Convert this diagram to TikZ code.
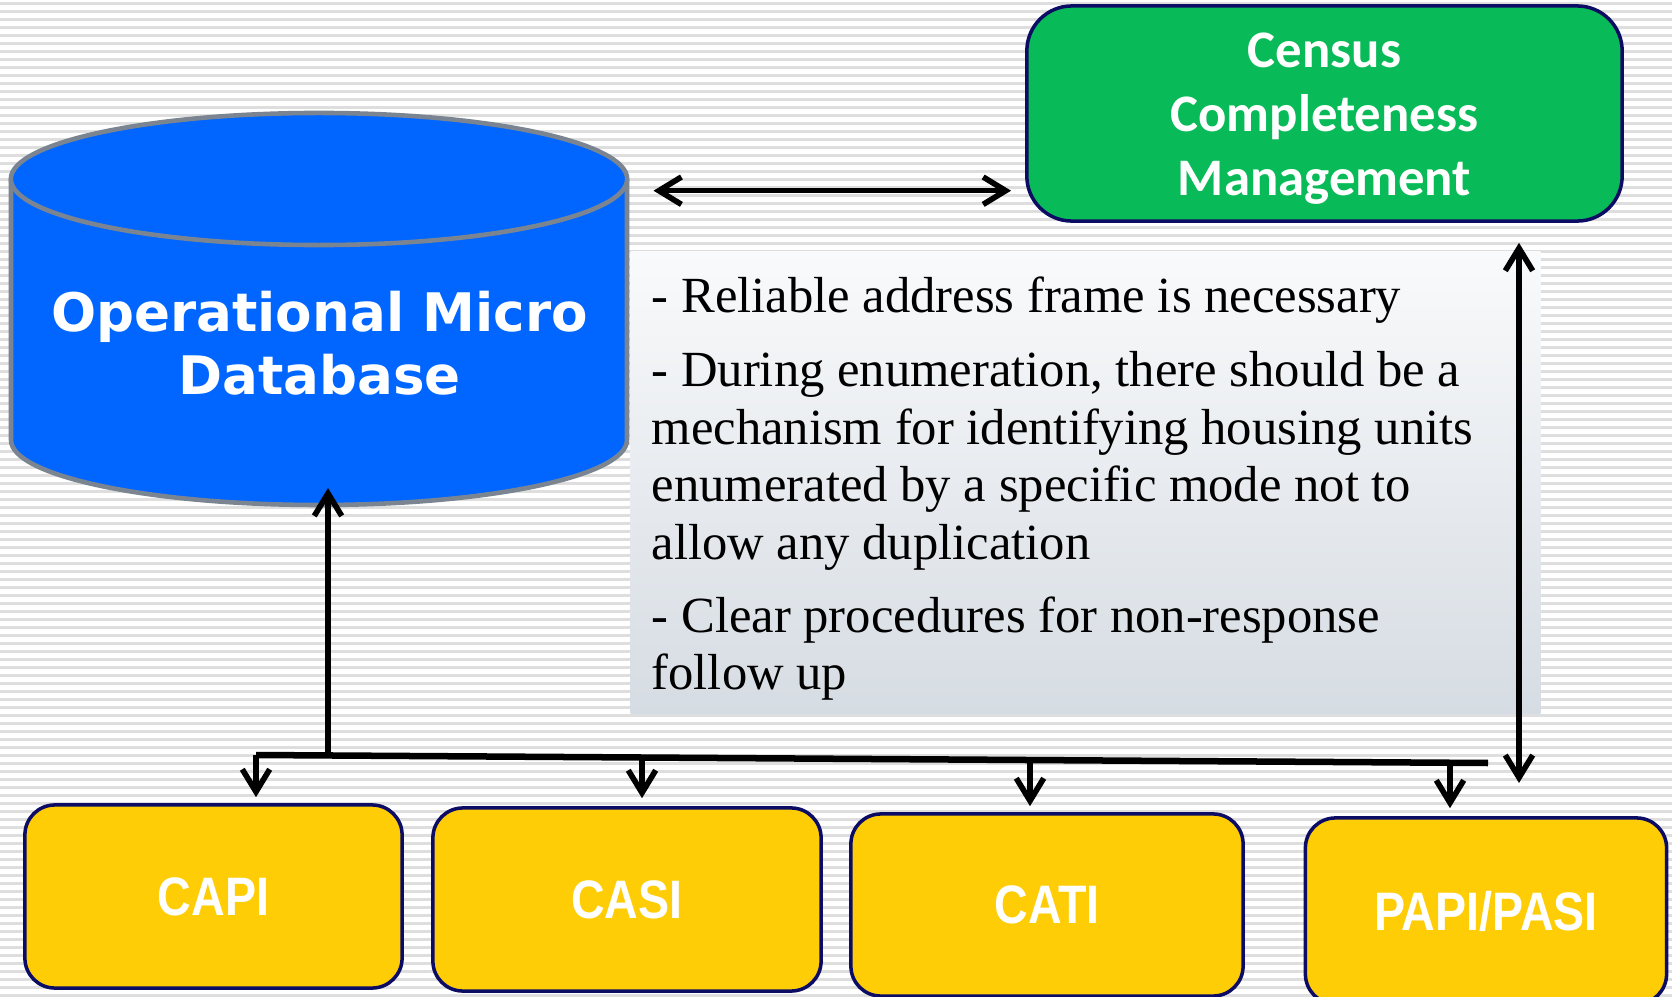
\documentclass[tikz,border=0pt]{standalone}
\usepackage{fontspec}
\usepackage{graphicx}
\usetikzlibrary{arrows.meta}
\newfontfamily\dbfont{DejaVu Sans}
\newfontfamily\ccmfont{Carlito}
\newfontfamily\notefont{Liberation Serif}
\newfontfamily\modefont{Liberation Sans}
\newcommand\modetxt[1]{\scalebox{0.86}[1]{#1}}
\definecolor{dbblue}{RGB}{0,102,255}
\definecolor{dbedge}{RGB}{122,133,145}
\definecolor{ccmgreen}{RGB}{9,187,88}
\definecolor{navyedge}{RGB}{12,12,100}
\definecolor{modeyellow}{RGB}{254,205,6}
\definecolor{stripecol}{RGB}{222,222,222}
\definecolor{notetop}{RGB}{249,250,251}
\definecolor{notebot}{RGB}{214,220,227}
\tikzset{
  barb/.tip={Straight Barb[length=6.4pt,width=7.8pt,line width=1.6pt]},
  conn/.style={line width=1.55pt, black},
  busline/.style={line width=1.85pt, black},
  modebox/.style={draw=navyedge, line width=1pt, fill=modeyellow, rounded corners=0.3cm,
    text=white, font=\modefont\bfseries\fontsize{15.4}{18}\selectfont},
  ccmbox/.style={draw=navyedge, line width=1pt, fill=ccmgreen, rounded corners=0.45cm},
  ccmtext/.style={text=white, align=center, font=\ccmfont\bfseries\fontsize{15}{18.2}\selectfont},
  notebox/.style={top color=notetop, bottom color=notebot, draw=none},
  noteline/.style={anchor=base west, inner sep=0pt, font=\notefont\fontsize{14.4}{16.4}\selectfont},
}
\begin{document}
\begin{tikzpicture}[x=0.01cm, y=-0.01cm]
\useasboundingbox (0,0) rectangle (1672,997);
\fill[white] (0,0) rectangle (1672,997);
\foreach \k in {0,...,124} \draw[stripecol, line width=0.6pt] (0,{3.5+8*\k}) -- (1672,{3.5+8*\k});

% notes panel
\node[notebox, minimum width=9.09cm, minimum height=4.62cm] (notes) at (1085.5,482.5) {};
\node[noteline] (n1) at (651,312.5) {- Reliable address frame is necessary};
\node[noteline] (n2) at (651,386.5) {- During enumeration, there should be a};
\node[noteline] (n3) at (651,444) {mechanism for identifying housing units};
\node[noteline] (n4) at (651,501.5) {enumerated by a specific mode not to};
\node[noteline] (n5) at (651,559) {allow any duplication};
\node[noteline] (n6) at (651,632) {- Clear procedures for non-response};
\node[noteline] (n7) at (651,689.5) {follow up};

% database cylinder
\fill[dbblue] (11,179) -- (11,440) .. controls (11,475.9) and (148.9,505) .. (319,505)
  .. controls (489.1,505) and (627,475.9) .. (627,440) -- (627,179) -- cycle;
\draw[dbedge, line width=1.3pt] (11,179) -- (11,440) .. controls (11,475.9) and (148.9,505) .. (319,505)
  .. controls (489.1,505) and (627,475.9) .. (627,440) -- (627,179);
\filldraw[fill=dbblue, draw=dbedge, line width=1.3pt] (319,179) ellipse [x radius=3.08cm, y radius=0.66cm];
\node[text=white, align=center, font=\dbfont\bfseries\fontsize{15.1}{17.9}\selectfont] (db) at (319.5,343.5) {Operational Micro\\Database};

% census completeness management
\node[ccmbox, minimum width=5.95cm, minimum height=2.15cm] (ccm) at (1324.5,113.5) {};
\node[ccmtext] (ccmlabel) at (1324.5,119) {Census\\Completeness\\Management};

% mode boxes
\node[modebox, minimum width=3.77cm, minimum height=1.83cm] (capi) at (213.5,896.5) {\modetxt{CAPI}};
\node[modebox, minimum width=3.88cm, minimum height=1.83cm] (casi) at (627,899.5) {\modetxt{CASI}};
\node[modebox, minimum width=3.92cm, minimum height=1.82cm] (cati) at (1047,905) {\modetxt{CATI}};
\node[modebox, minimum width=3.61cm, minimum height=1.86cm] (papi) at (1486,911) {\modetxt{PAPI/PASI}};

% connectors
\coordinate (dbR) at (653.5,190.7);
\coordinate (dbB) at (328,488);
\coordinate (busUp) at (328,755.5);
\coordinate (bus1) at (256,755);
\coordinate (bus2) at (642,757.5);
\coordinate (bus3) at (1030,760);
\coordinate (bus4) at (1450,762.7);
\coordinate (busEnd) at (1488,763);
\coordinate (rBot) at (1519,783);

\draw[conn, {barb}-{barb}, shorten >=0.14cm] (dbR) -- (dbR -| ccm.west);
\draw[conn, {barb}-{barb}, shorten >=0.2cm] (rBot) -- (rBot |- ccm.south);
\draw[busline] (bus1) -- (busEnd);
\draw[conn, -{barb}] (busUp) -- (dbB);
\draw[conn, -{barb}, shorten >=0.06cm] (bus1) -- (bus1 |- capi.north);
\draw[conn, -{barb}, shorten >=0.08cm] (bus2) -- (bus2 |- casi.north);
\draw[conn, -{barb}, shorten >=0.06cm] (bus3) -- (bus3 |- cati.north);
\draw[conn, -{barb}, shorten >=0.08cm] (bus4) -- (bus4 |- papi.north);
\end{tikzpicture}
\end{document}
